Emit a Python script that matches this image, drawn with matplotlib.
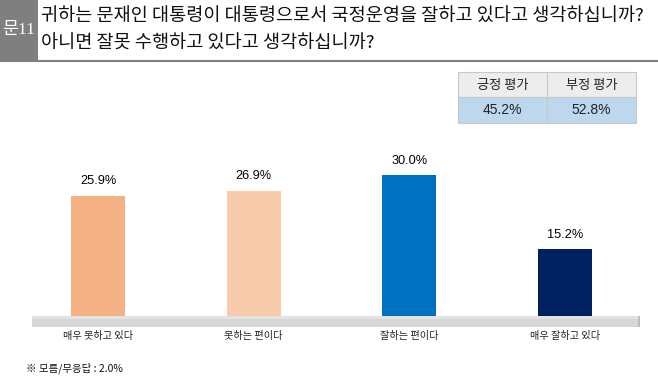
import matplotlib
matplotlib.use("Agg")
import matplotlib.pyplot as plt
from matplotlib.patches import Rectangle

plt.rcParams['font.family'] = ['Noto Sans CJK KR', 'DejaVu Sans']

categories = ["매우 못하고 있다", "못하는 편이다", "잘하는 편이다", "매우 잘하고 있다"]
values = [25.9, 26.9, 30.0, 15.2]
colors = ["#F4B183", "#F8CBAD", "#0070C0", "#002060"]
title_lines = ["귀하는 문재인 대통령이 대통령으로서 국정운영을 잘하고 있다고 생각하십니까?",
               "아니면 잘못 수행하고 있다고 생각하십니까?"]
table_head = ["긍정 평가", "부정 평가"]
table_vals = ["45.2%", "52.8%"]
footnote = "※ 모름/무응답 : 2.0%"

W, H = 658, 381
fig = plt.figure(figsize=(W / 100, H / 100), dpi=100)

def fx(px):
    return px / W

def fy(py):
    return 1 - py / H

# header
fig.patches.append(Rectangle((0, fy(60)), fx(38), 60 / H, transform=fig.transFigure,
                             facecolor="#7f7f7f", edgecolor="none"))
fig.text(fx(19), fy(30), "문11", color="white", fontsize=12.5, ha="center", va="center",
         family=["Liberation Serif", "Noto Sans CJK KR"])
fig.add_artist(plt.Line2D([0, 1], [fy(60.5), fy(60.5)], transform=fig.transFigure,
                          color="#7f7f7f", lw=1.5))
fig.text(fx(41), fy(16), title_lines[0], fontsize=13.4, va="center", color="#111111")
fig.text(fx(41), fy(44), title_lines[1], fontsize=13.4, va="center", color="#111111")

# summary table
tx0, tx1, tmid = 458, 636, 547
fig.patches.append(Rectangle((fx(tx0), fy(97)), fx(tx1 - tx0), 25 / H, transform=fig.transFigure,
                             facecolor="#ededed", edgecolor="#c8c8c8", lw=0.8))
fig.patches.append(Rectangle((fx(tx0), fy(123)), fx(tx1 - tx0), 26 / H, transform=fig.transFigure,
                             facecolor="#bdd7ee", edgecolor="#c8c8c8", lw=0.8))
fig.add_artist(plt.Line2D([fx(tmid), fx(tmid)], [fy(72), fy(123)], transform=fig.transFigure,
                          color="#c8c8c8", lw=0.8))
for i, (h, v) in enumerate(zip(table_head, table_vals)):
    cx = (tx0 + tmid) / 2 if i == 0 else (tmid + tx1) / 2
    fig.text(fx(cx), fy(85), h, fontsize=9.5, ha="center", va="center", color="#222222",
             weight="medium")
    fig.text(fx(cx), fy(110.5), v, fontsize=10, ha="center", va="center", color="#222222",
             family=["Liberation Sans", "DejaVu Sans"])

# floor
fig.patches.append(Rectangle((fx(32), fy(327)), fx(608), 11 / H, transform=fig.transFigure,
                             facecolor="#d6d6d6", edgecolor="none"))
fig.patches.append(Rectangle((fx(32), fy(319)), fx(608), 3 / H, transform=fig.transFigure,
                             facecolor="#e3e3e3", edgecolor="none"))
fig.patches.append(Rectangle((fx(638), fy(327)), fx(2), 11 / H, transform=fig.transFigure,
                             facecolor="#bdbdbd", edgecolor="none"))

# bars
ax_l, ax_r, ax_t, ax_b = 32, 640, 130, 325
ax = fig.add_axes([fx(ax_l), fy(ax_b), fx(ax_r - ax_l), (ax_b - ax_t) / H])
ax.set_facecolor("none")
sp = (565 - 98) / 3
x = list(range(len(categories)))
ax.bar(x, values, width=54 / sp, color=colors, zorder=3)
ax.set_xlim(-(98 - ax_l) / sp, 3 + (ax_r - 565) / sp)
ax.set_ylim(0, (ax_b - ax_t) / 5.0)
for xi, v in zip(x, values):
    ax.annotate(f"{v:.1f}%", (xi, v), xytext=(0, 6), textcoords="offset points",
                ha="center", va="bottom", fontsize=9.2, family=["Liberation Sans", "DejaVu Sans"])
ax.axis("off")

for xi, c in zip(x, categories):
    px = ax_l + (xi + (98 - ax_l) / sp) * sp
    fig.text(fx(px), fy(336), c, fontsize=7.3, ha="center", va="center", color="#222222")

fig.text(fx(26), fy(368), footnote, fontsize=7.5, va="center", color="#111111", weight="medium")

fig.savefig("out.png", dpi=100)
